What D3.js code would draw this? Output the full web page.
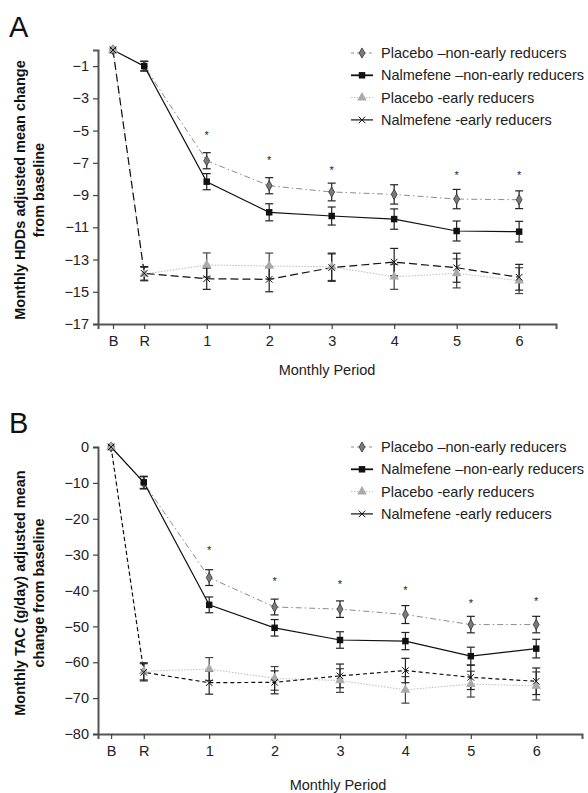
<!DOCTYPE html>
<html>
<head>
<meta charset="utf-8">
<script src="https://cdn.jsdelivr.net/npm/d3@7"></script>
<style>
  body { margin: 0; background: #fff; }
  svg text { font-family: "Liberation Sans", Arial, sans-serif; }
</style>
</head>
<body>
<div id="chart"></div>
<script>
// x positions (B = baseline, R = randomisation, then months)
const periods = ["B", "R", "1", "2", "3", "4", "5", "6"];
const periodX = [-0.5, 0, 1, 2, 3, 4, 5, 6];

const seriesNames = ["Placebo \u2013non-early reducers", "Nalmefene \u2013non-early reducers", "Placebo -early reducers", "Nalmefene -early reducers"];

// panel A: monthly HDDs
const hddPlaceboNon    = [0, -1.0, -6.87, -8.42, -8.81, -8.96, -9.25, -9.29];
const hddPlaceboNonErr = [0, 0.3, 0.5, 0.5, 0.55, 0.6, 0.6, 0.55];
const hddNalNon        = [0, -1.0, -8.17, -10.07, -10.3, -10.49, -11.23, -11.27];
const hddNalNonErr     = [0, 0.3, 0.5, 0.53, 0.56, 0.63, 0.62, 0.64];
const hddPlaceboEarly    = [0, -13.9, -13.34, -13.4, -13.45, -14.07, -13.86, -14.31];
const hddPlaceboEarlyErr = [0, 0.42, 0.75, 0.8, 0.85, 0.78, 0.9, 0.8];
const hddNalEarly        = [0, -13.86, -14.19, -14.23, -13.5, -13.16, -13.51, -14.1];
const hddNalEarlyErr     = [0, 0.42, 0.66, 0.77, 0.85, 0.85, 0.9, 0.8];
const hddStars = [null, null, -5.14, -6.71, -7.3, null, -7.63, -7.63];
const hddTicks = [-1, -3, -5, -7, -9, -11, -13, -15, -17];

// panel B: monthly TAC (g/day)
const tacPlaceboNon    = [0, -10, -36.4, -44.6, -45.2, -46.7, -49.5, -49.5];
const tacPlaceboNonErr = [0, 1.7, 2.2, 2.2, 2.3, 2.5, 2.3, 2.3];
const tacNalNon        = [0, -9.85, -44.0, -50.4, -53.8, -54.1, -58.3, -56.2];
const tacNalNonErr     = [0, 1.7, 2.2, 2.3, 2.3, 2.4, 2.5, 2.6];
const tacPlaceboEarly    = [0, -62.5, -61.9, -64.5, -65.1, -67.7, -66.1, -66.6];
const tacPlaceboEarlyErr = [0, 2.4, 3.2, 3.3, 3.3, 3.7, 3.6, 3.9];
const tacNalEarly        = [0, -62.8, -65.7, -65.6, -63.8, -62.3, -64.2, -65.3];
const tacNalEarlyErr     = [0, 2.4, 3.2, 3.2, 3.3, 3.4, 3.4, 3.7];
const tacStars = [null, null, -28.2, -36.9, -37.5, -39.4, -42.8, -42.5];
const tacTicks = [0, -10, -20, -30, -40, -50, -60, -70, -80];

const svg = d3.select("#chart").append("svg")
    .attr("width", 588)
    .attr("height", 793);

// series styles, same order as seriesNames
const styles = [
    {line: "#8c8c8c", width: 1, dash: "6,3,1.5,3", marker: "diamond", fill: "#7a7a7a", stroke: "#333", err: "#222"},
    {line: "#111", width: 1.2, dash: null, marker: "square", fill: "#111", stroke: "#111", err: "#222"},
    {line: "#bdbdbd", width: 1, dash: "1.5,1.5", marker: "triangle", fill: "#aaa", stroke: "#aaa", err: "#444"},
    {line: "#111", width: 1.2, dash: "7,4", marker: "x", fill: "none", stroke: "#111", err: "#222"}
];

function drawMarker(g, type, cx, cy, st) {
    if (type === "diamond") {
        g.append("path").attr("d", d3.symbol(d3.symbolDiamond, 30)())
            .attr("transform", `translate(${cx},${cy})`)
            .attr("fill", st.fill).attr("stroke", st.stroke).attr("stroke-width", 0.8);
    } else if (type === "square") {
        g.append("path").attr("d", d3.symbol(d3.symbolSquare, 42)())
            .attr("transform", `translate(${cx},${cy})`)
            .attr("fill", st.fill);
    } else if (type === "triangle") {
        g.append("path").attr("d", d3.symbol(d3.symbolTriangle, 40)())
            .attr("transform", `translate(${cx},${cy})`)
            .attr("fill", st.fill);
    } else {
        g.append("path").attr("d", d3.symbol(d3.symbolTimes, 30)())
            .attr("transform", `translate(${cx},${cy})`)
            .attr("fill", "none").attr("stroke", st.stroke).attr("stroke-width", 1);
    }
}

function drawPanel(cfg) {
    const g = svg.append("g");
    const x = d3.scaleLinear().domain(cfg.xDomain).range(cfg.xRange);
    const y = d3.scaleLinear().domain(cfg.yDomain).range(cfg.yRange);

    // panel letter
    g.append("text")
        .attr("x", 9).attr("y", cfg.letterY)
        .style("font-size", "29px")
        .attr("fill", "#111")
        .text(cfg.letter);

    // axes
    const yAxis = g.append("g")
        .attr("transform", `translate(${cfg.xRange[0]},0)`)
        .call(d3.axisLeft(y).tickValues(cfg.yTicks).tickSizeOuter(0).tickSize(5).tickPadding(4));
    const xAxis = g.append("g")
        .attr("transform", `translate(0,${cfg.yRange[0]})`)
        .call(d3.axisBottom(x).tickValues(periodX).tickFormat((d, i) => periods[i]).tickSizeOuter(0).tickSize(5).tickPadding(7));
    [xAxis, yAxis].forEach(a => {
        a.select(".domain").attr("stroke", "#555").attr("stroke-width", 2);
        a.selectAll(".tick line").attr("stroke", "#444").attr("stroke-width", 1.2);
        a.selectAll(".tick text").style("font-size", "14.5px").attr("fill", "#222");
    });

    // axis titles
    g.append("text")
        .attr("x", cfg.xLabelX).attr("y", cfg.xLabelY)
        .attr("text-anchor", "middle")
        .style("font-size", "14.5px").attr("fill", "#222")
        .text("Monthly Period");

    const yt = g.append("text")
        .attr("transform", `translate(25,${cfg.yTitleCenter}) rotate(-90)`)
        .attr("text-anchor", "middle")
        .style("font-size", "14.5px").style("font-weight", "bold").attr("fill", "#111");
    yt.append("tspan").attr("x", 0).attr("y", 0).text(cfg.yTitle[0]);
    yt.append("tspan").attr("x", 0).attr("y", 18.5).text(cfg.yTitle[1]);

    // lines
    cfg.series.forEach((s, k) => {
        const st = styles[k];
        const line = d3.line().x((d, i) => x(periodX[i])).y(d => y(d));
        g.append("path")
            .datum(s.values)
            .attr("d", line)
            .attr("fill", "none")
            .attr("stroke", st.line)
            .attr("stroke-width", st.width)
            .attr("stroke-dasharray", k === 3 ? cfg.earlyDash : st.dash);
    });

    // error bars and markers
    cfg.series.forEach((s, k) => {
        const st = styles[k];
        s.values.forEach((v, i) => {
            const e = s.err[i];
            const cx = x(periodX[i]);
            if (e > 0) {
                const top = y(v + e), bot = y(v - e);
                g.append("line").attr("x1", cx).attr("x2", cx).attr("y1", top).attr("y2", bot)
                    .attr("stroke", st.err).attr("stroke-width", 1.2);
                [top, bot].forEach(yy => g.append("line")
                    .attr("x1", cx - 4).attr("x2", cx + 4).attr("y1", yy).attr("y2", yy)
                    .attr("stroke", st.err).attr("stroke-width", 1.2));
            }
        });
    });
    cfg.series.forEach((s, k) => {
        s.values.forEach((v, i) => drawMarker(g, styles[k].marker, x(periodX[i]), y(v), styles[k]));
    });

    // significance asterisks
    cfg.stars.forEach((v, i) => {
        if (v === null) return;
        g.append("text")
            .attr("x", x(periodX[i])).attr("y", y(v) + 6)
            .attr("text-anchor", "middle")
            .style("font-size", "11px").attr("fill", "#222")
            .text("*");
    });

    // legend
    const legend = g.selectAll(".legend")
        .data(seriesNames)
        .enter().append("g")
        .attr("class", "legend")
        .attr("transform", (d, i) => `translate(362,${cfg.legendY + i * 22.3})`);
    legend.each(function (d, i) {
        const lg = d3.select(this);
        const st = styles[i];
        lg.append("line").attr("x1", -11).attr("x2", 11).attr("y1", 0).attr("y2", 0)
            .attr("stroke", st.line)
            .attr("stroke-width", i === 1 ? 1.8 : (i === 3 ? 1.2 : 1))
            .attr("stroke-dasharray", i === 3 ? null : (i === 0 ? "3,3" : st.dash));
        drawMarker(lg, st.marker, 0, 0, st);
        lg.append("text").attr("x", 19).attr("y", 0).attr("dy", "0.35em")
            .style("font-size", "14.5px").attr("fill", "#222")
            .text(d);
    });
}

drawPanel({
    letter: "A", letterY: 37,
    xDomain: [-0.74, 6.59], xRange: [98, 556],
    yDomain: [-17, 0], yRange: [324, 50],
    yTicks: hddTicks,
    xLabelX: 327, xLabelY: 375,
    yTitle: ["Monthly HDDs adjusted mean change", "from baseline"], yTitleCenter: 190,
    legendY: 53,
    earlyDash: "8,4",
    stars: hddStars,
    series: [
        {values: hddPlaceboNon, err: hddPlaceboNonErr},
        {values: hddNalNon, err: hddNalNonErr},
        {values: hddPlaceboEarly, err: hddPlaceboEarlyErr},
        {values: hddNalEarly, err: hddNalEarlyErr}
    ]
});

drawPanel({
    letter: "B", letterY: 433,
    xDomain: [-0.7, 6.7], xRange: [98, 582],
    yDomain: [-80, 0], yRange: [734, 447],
    yTicks: tacTicks,
    xLabelX: 338, xLabelY: 790,
    yTitle: ["Monthly TAC (g/day) adjusted mean", "change from baseline"], yTitleCenter: 593,
    legendY: 447,
    earlyDash: "4,3",
    stars: tacStars,
    series: [
        {values: tacPlaceboNon, err: tacPlaceboNonErr},
        {values: tacNalNon, err: tacNalNonErr},
        {values: tacPlaceboEarly, err: tacPlaceboEarlyErr},
        {values: tacNalEarly, err: tacNalEarlyErr}
    ]
});
</script>
</body>
</html>
